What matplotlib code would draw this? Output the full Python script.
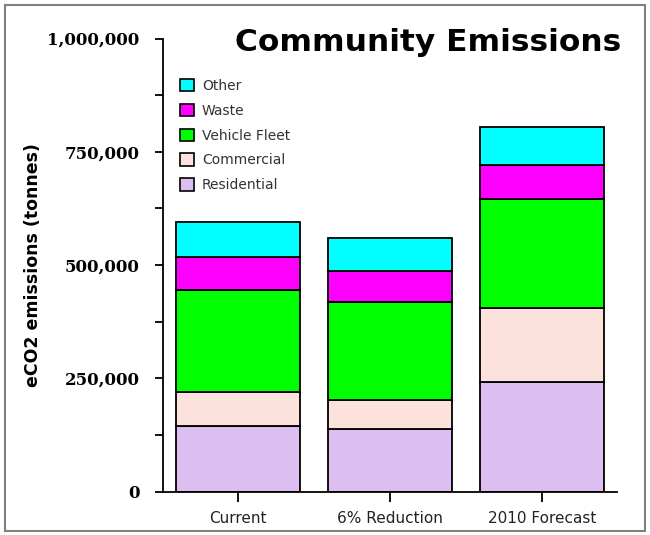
import matplotlib
matplotlib.use('Agg')
import matplotlib.pyplot as plt
from matplotlib.patches import Rectangle, Patch
from matplotlib.ticker import FuncFormatter, MultipleLocator

scenarios = ['Current', '6% Reduction', '2010 Forecast']
residential = [146000, 138000, 243000]
commercial = [73000, 64000, 163000]
vehicle_fleet = [227000, 217000, 239000]
waste = [71000, 68000, 75000]
other = [78000, 73000, 84000]

series = [('Residential', residential, '#dcbef0'),
          ('Commercial', commercial, '#fce2dc'),
          ('Vehicle Fleet', vehicle_fleet, '#00ff00'),
          ('Waste', waste, '#ff00ff'),
          ('Other', other, '#00ffff')]

fig = plt.figure(figsize=(6.5, 5.35), dpi=100)
ax = fig.add_axes([0.251, 0.081, 0.698, 0.847])

x = list(range(len(scenarios)))
bottom = [0] * len(scenarios)
for name, vals, col in series:
    ax.bar(x, vals, bottom=bottom, width=0.816, color=col,
           edgecolor='black', linewidth=1.3)
    bottom = [b + v for b, v in zip(bottom, vals)]

ax.set_xlim(-0.49, 2.49)
ax.set_ylim(0, 1000000)
ax.yaxis.set_major_locator(MultipleLocator(250000))
ax.yaxis.set_minor_locator(MultipleLocator(125000))
ax.yaxis.set_major_formatter(FuncFormatter(lambda v, p: f'{int(v):,}'))
ax.set_xticks(x)
ax.set_xticklabels(scenarios, fontsize=11, family='DejaVu Sans', color='#222222')
for lbl in ax.get_yticklabels():
    lbl.set_family('DejaVu Serif')
    lbl.set_fontweight('bold')
    lbl.set_fontsize(12)
ax.tick_params(axis='y', which='both', length=6, width=1.3, pad=11)
ax.tick_params(axis='x', length=7, width=1.3, pad=7)
ax.spines['top'].set_visible(False)
ax.spines['right'].set_visible(False)
ax.spines['left'].set_linewidth(1.3)
ax.spines['bottom'].set_linewidth(1.3)

ax.set_ylabel('eCO2 emissions (tonnes)', fontsize=12.5, fontweight='bold',
              family='DejaVu Sans', labelpad=4)

fig.text(0.659, 0.921, 'Community Emissions', fontsize=22.5, fontweight='bold',
         family='DejaVu Sans', ha='center', va='center')

handles = [Patch(facecolor=col, edgecolor='black', linewidth=1.2)
           for name, vals, col in reversed(series)]
labels = [name for name, vals, col in reversed(series)]
fig.legend(handles, labels, loc='upper left', bbox_to_anchor=(0.268, 0.863),
           frameon=False, fontsize=10, handlelength=1.0, handleheight=1.0,
           labelspacing=0.78, handletextpad=0.6, borderaxespad=0,
           labelcolor='#333333')

fig.patches.append(Rectangle((0.007, 0.008), 0.986, 0.983, transform=fig.transFigure,
                             fill=False, edgecolor='#808080', linewidth=1.5))

fig.savefig('out.png', dpi=100)
